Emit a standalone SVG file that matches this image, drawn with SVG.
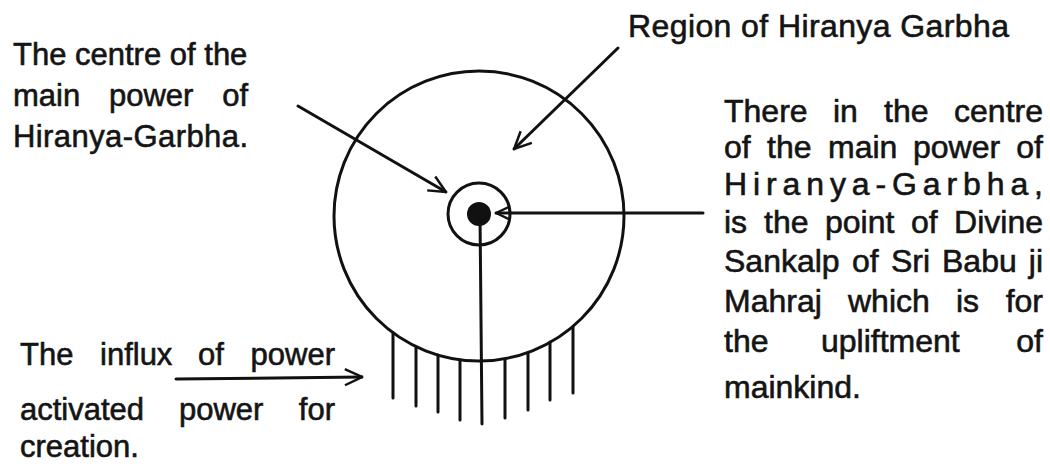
<svg xmlns="http://www.w3.org/2000/svg" width="1050" height="466" viewBox="0 0 1050 466">
  <style>
    .ln { fill: none; stroke: #111; stroke-width: 3; stroke-linecap: round; }
    .t { font-family: "Liberation Sans", Arial, sans-serif; fill: #141414; stroke: #141414; stroke-width: 0.6; }
    .t31 { font-size: 31px; }
    .t32 { font-size: 32px; }
  </style>
  <defs>
    <marker id="ah" viewBox="0 0 20 20" refX="19" refY="10" markerWidth="19" markerHeight="19" markerUnits="userSpaceOnUse" orient="auto">
      <path d="M1,1.5 L19,10 L1,18.5" fill="none" stroke="#111" stroke-width="2.6" stroke-linejoin="miter"/>
    </marker>
    <marker id="ahs" viewBox="0 0 20 20" refX="19" refY="10" markerWidth="15" markerHeight="15" markerUnits="userSpaceOnUse" orient="auto">
      <path d="M1,1.5 L19,10 L1,18.5" fill="none" stroke="#111" stroke-width="3"/>
    </marker>
  </defs>
  <rect width="1050" height="466" fill="#ffffff"/>

  <g id="hiranya-garbha">
    <circle class="ln" cx="479" cy="216" r="145"/>
    <circle class="ln" cx="479" cy="214" r="31"/>
    <circle cx="479" cy="214" r="12" fill="#111"/>
    <line class="ln" x1="480" y1="214" x2="482" y2="424"/>
    <line class="ln" x1="393" y1="333" x2="393" y2="398"/>
    <line class="ln" x1="416" y1="347" x2="416" y2="406"/>
    <line class="ln" x1="438" y1="355" x2="438" y2="412"/>
    <line class="ln" x1="460" y1="360" x2="460" y2="420"/>
    <line class="ln" x1="505" y1="359" x2="505" y2="418"/>
    <line class="ln" x1="528" y1="353" x2="528" y2="410"/>
    <line class="ln" x1="550" y1="342" x2="550" y2="400"/>
    <line class="ln" x1="573" y1="327" x2="573" y2="393"/>
  </g>

  <g id="label-centre" class="t t31">
    <text x="13" y="65">The centre of the</text>
    <text y="106"><tspan x="13">main</tspan><tspan x="109">power</tspan><tspan x="248" text-anchor="end">of</tspan></text>
    <text x="13" y="147" textLength="235" lengthAdjust="spacing">Hiranya-Garbha.</text>
  </g>

  <g id="label-region" class="t t32">
    <text x="628" y="37" textLength="381" lengthAdjust="spacing">Region of Hiranya Garbha</text>
  </g>

  <g id="label-point" class="t t32">
    <text y="122"><tspan x="724">There</tspan><tspan x="833">in</tspan><tspan x="884">the</tspan><tspan x="1043" text-anchor="end">centre</tspan></text>
    <text y="158"><tspan x="724">of</tspan><tspan x="767">the</tspan><tspan x="828">main</tspan><tspan x="913">power</tspan><tspan x="1043" text-anchor="end">of</tspan></text>
    <text x="724" y="195" textLength="319" lengthAdjust="spacing">Hiranya-Garbha,</text>
    <text y="233"><tspan x="724">is</tspan><tspan x="764">the</tspan><tspan x="825">point</tspan><tspan x="911">of</tspan><tspan x="1043" text-anchor="end">Divine</tspan></text>
    <text y="272"><tspan x="724">Sankalp</tspan><tspan x="852">of</tspan><tspan x="891">Sri</tspan><tspan x="942">Babu</tspan><tspan x="1043" text-anchor="end">ji</tspan></text>
    <text y="312"><tspan x="724">Mahraj</tspan><tspan x="848">which</tspan><tspan x="956">is</tspan><tspan x="1043" text-anchor="end">for</tspan></text>
    <text y="352"><tspan x="724">the</tspan><tspan x="821">upliftment</tspan><tspan x="1043" text-anchor="end">of</tspan></text>
    <text x="724" y="398">mainkind.</text>
  </g>

  <g id="label-influx" class="t t31">
    <text y="365"><tspan x="20">The</tspan><tspan x="100">influx</tspan><tspan x="198">of</tspan><tspan x="335" text-anchor="end">power</tspan></text>
    <text y="420"><tspan x="20">activated</tspan><tspan x="179">power</tspan><tspan x="335" text-anchor="end">for</tspan></text>
    <text x="20" y="457">creation.</text>
  </g>

  <g id="connectors">
    <line class="ln" x1="298" y1="106" x2="446" y2="192" marker-end="url(#ah)"/>
    <line class="ln" x1="618" y1="48" x2="514" y2="149" marker-end="url(#ah)"/>
    <line class="ln" x1="703" y1="213" x2="496" y2="213" marker-end="url(#ahs)"/>
    <line class="ln" x1="176" y1="379" x2="362" y2="377" marker-end="url(#ah)"/>
  </g>
</svg>
